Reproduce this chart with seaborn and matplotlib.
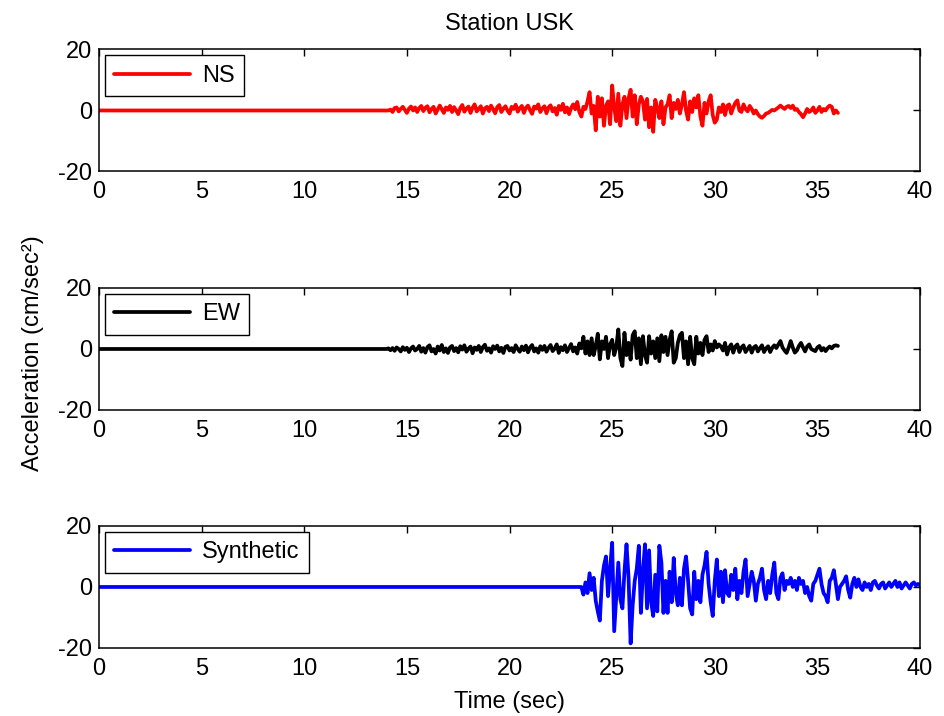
import numpy as np
import pandas as pd
import matplotlib
matplotlib.use("Agg")
import matplotlib.pyplot as plt
import seaborn as sns

# ---------------- data ----------------
title = "Station USK"
x_label = "Time (sec)"
y_label = "Acceleration (cm/sec²)"
x_ticks = [0, 5, 10, 15, 20, 25, 30, 35, 40]
y_ticks = [-20, 0, 20]

dt = 0.1
ns_start = 14.0
ns_values = [
    0, 0, 0.3, -0.5, 0.8, 1.0, -0.3, 0.5, 1.2, 0.2,
    -0.8, 0.6, 1.3, 0.0, 1.0, -0.5, 0.8, 1.5, -0.2, 0.9,
    1.4, -0.6, 0.5, 1.2, -1.0, 0.3, 1.6, 0.4, -0.8, 1.0,
    0.2, 1.5, -0.5, 1.1, 0.0, -1.2, 0.8, 1.8, -0.4, 0.6,
    1.3, -0.8, 0.9, 2.0, -0.3, 0.5, 1.4, -1.0, 0.7, 1.2,
    -0.2, 1.6, 0.4, -0.9, 1.1, 1.8, -0.5, 0.6, 1.4, 0.0,
    -1.0, 1.2, 0.5, 1.9, -0.4, 0.8, 1.5, -0.8, 0.9, 1.6,
    0.1, -1.1, 1.3, 0.6, 2.0, -0.5, 0.7, 1.4, -0.9, 1.0,
    1.7, -0.3, 0.8, -1.4, 1.5, 0.2, 2.2, -0.6, 1.0, -1.2,
    0.8, 2.0, 0.4, 2.8, -0.5, -2.0, 1.2, 0.5, 3.0, 6.0,
    -1.0, 1.5, -6.5, 4.5, -2.0, 4.0, -5.0, 1.5, 3.0, -4.5,
    8.2, 1.0, -3.5, 5.5, -5.0, 2.0, 4.5, -2.5, 4.0, 6.8,
    -2.0, 5.0, -4.5, 2.0, 4.5, 3.0, -3.0, 3.8, -5.5, 1.0,
    -7.0, 3.5, 1.0, -2.5, 3.0, -4.5, 1.0, 2.0, 5.0, -2.5,
    2.5, 0.5, 3.5, -1.0, 2.0, 6.0, 0.0, -3.0, 3.0, -0.5,
    4.0, 1.0, 5.0, -2.0, -5.0, 2.5, -1.0, 3.0, 5.0, -1.5,
    -4.0, -3.0, 1.0, -0.5, 2.0, -1.5, 1.5, 2.0, -1.0, 1.0,
    2.5, 3.3, 0.0, -0.5, 2.0, 0.5, -0.3, 1.5, 0.5, -1.0,
    0.0, -1.2, -2.0, -2.4, -1.8, -1.0, -0.8, -0.3, 0.2, 0.0,
    0.5, 1.0, 1.6, 1.0, 0.5, 1.2, 1.5, 0.8, 1.6, 0.2,
    0.5, -0.5, -1.2, -2.2, -1.0, 0.5, -0.5, 0.0, 1.0, -0.8,
    0.0, 1.2, -0.5, 0.5, 0.0, 1.0, 1.6, 1.2, -1.0, 0.0,
    -0.8,
]

ew_start = 14.0
ew_values = [
    0, 0.2, -0.4, 0.3, -0.6, 0.5, 0.0, -0.8, 0.6, -0.3,
    0.4, -1.0, 0.2, 0.8, -0.5, 0.0, 1.0, -0.9, 0.3, -1.2,
    0.6, 1.2, -0.8, 0.0, -1.5, 0.8, -0.5, 1.3, -1.0, 0.2,
    -1.3, 0.5, 1.0, -0.7, 0.3, -1.1, 0.9, -0.2, 1.2, -0.9,
    0.1, 0.8, -1.4, 0.5, -0.3, 1.0, -1.0, 0.6, 1.4, -0.6,
    0.2, -1.2, 0.9, 0.0, 1.1, -0.8, 0.4, -1.3, 0.7, 1.0,
    -0.5, 0.3, -1.0, 1.2, 0.0, -0.9, 0.8, -0.4, 1.1, -1.1,
    0.5, 1.3, -0.8, 0.2, -1.2, 0.9, -0.3, 1.0, -0.9, 0.4,
    1.3, -0.7, 0.1, 1.5, -1.3, 0.6, -0.4, 1.2, -1.0, 0.3,
    1.6, -0.8, 0.5, -1.5, 1.8, 0.2, 4.0, -1.5, 2.5, -2.0,
    3.5, -2.0, 1.0, 5.0, -3.4, 2.5, 0.0, 4.0, -3.0, 1.5,
    3.0, -2.0, 0.5, 6.4, -3.0, -5.6, 5.3, -2.0, 2.0, -3.5,
    4.5, 5.8, -3.0, 3.5, -5.0, 4.2, -2.0, -4.5, 4.2, -1.5,
    2.5, -3.0, 3.5, -4.0, 4.5, -1.0, 4.0, -2.0, 3.0, 5.8,
    -4.5, -3.0, 2.0, 4.5, 5.3, -3.0, 2.5, -5.0, 4.0, -3.0,
    -5.0, 4.0, -1.5, 2.0, -2.0, 3.0, 4.2, -1.0, 1.5, -0.5,
    2.6, 0.5, 1.5, 0.8, -0.5, 2.0, -1.8, 0.5, 1.5, -1.2,
    0.8, 1.5, -1.0, 0.5, 1.2, -1.0, 0.0, 1.0, -1.2, 0.5,
    1.0, -0.8, 0.3, 1.2, -1.0, 0.2, 0.9, -1.0, 0.4, 1.2,
    0.3, 1.5, 2.6, 0.5, -0.5, -1.3, 0.5, 2.6, 0.5, -1.2,
    -0.5, 1.0, 2.0, 0.5, -0.8, 0.8, 1.5, 0.0, -0.4, -0.7,
    0.5, 1.0, -0.5, 0.3, -0.7, 0.2, 0.8, 0.2, 1.0, 1.2,
    1.0,
]

syn_start = 23.5
syn_values = [
    0, -2.5, 1.5, -2, 4.5, -1, 3, -4.5, -8, -11,
    2, 7, 10, -3, 6, 14.5, -14.5, -3, 8, -4,
    -7, 5, 14, 3, -18.5, -6, 2, 6, 13.5, -8.5,
    5, 14, -7, 12, -5, -9.5, 4, -8, 13.5, 8,
    -8.5, 2, -8.5, 5, -5, 9.5, -2, -6, 3, -6,
    6, 10, 2, -7, -9, 5, -4, 2, -5, 4,
    7, 11.5, 1, -5, -9.5, 2, 9, -3, 5, -5,
    5.5, -2, -3, 4, -1, 6, -4, 2, -2, 5,
    9, -3, 1, 5, 2, -4.5, 1, 3, 6, -1,
    -4, 2, -2, 4, 8, -2, -4, 3, 4.5, -1,
    2, 1, 3, 0, 2, -1, 3, 1, 2, -2,
    0, -3, -4.5, 1, 2, 4, 6, 1, -2, -3,
    -5, 2, 3, 5.5, 1, -4, 0, 1, 2, 3.5,
    -1, -3.5, 1, 3, 0, 2.5, 0, -1, 1.5, 0,
    1, -1, 1.5, 2, 0.5, -0.5, 1, 1.5, -0.5, 0.5,
    1.5, 0, 1, 2, 0, 1.5, -0.5, 0.5, 1.5, 0.5,
    -0.5, 1, 1.5, 0.5, 1, 0.5,
]

series = [
    ("NS", ns_start, ns_values, "#FF0000"),
    ("EW", ew_start, ew_values, "#000000"),
    ("Synthetic", syn_start, syn_values, "#0000FF"),
]

# ---------------- style ----------------
sns.set_theme(style="white")
plt.rcParams["font.family"] = ["Liberation Sans", "DejaVu Sans"]
plt.rcParams["axes.unicode_minus"] = False
plt.rcParams["text.color"] = "black"
plt.rcParams["axes.labelcolor"] = "black"
plt.rcParams["axes.linewidth"] = 1.1
FS = 17

fig = plt.figure(figsize=(9.44, 7.16), dpi=100)
bottoms = [0.7605, 0.4274, 0.0950]
axes = [fig.add_axes([0.1049, b, 0.8697, 0.1704]) for b in bottoms]

for ax, (name, t0, vals, col) in zip(axes, series):
    vals = np.asarray(vals, dtype=float)
    t = t0 + dt * np.arange(len(vals))
    df = pd.DataFrame({"t": np.concatenate([[0.0], t]),
                       "a": np.concatenate([[0.0], vals])})
    sns.lineplot(data=df, x="t", y="a", ax=ax, color=col, linewidth=2.7,
                 label=name, estimator=None, sort=False)
    ax.set_xlim(0, 40)
    ax.set_ylim(-20, 20)
    ax.set_xticks(x_ticks)
    ax.set_yticks(y_ticks)
    ax.set_xlabel("")
    ax.set_ylabel("")
    ax.tick_params(axis="x", pad=7)
    ax.tick_params(axis="y", pad=5)
    ax.tick_params(direction="in", length=5, width=1.0, top=True, right=True,
                   labelsize=FS, colors="black")
    for sp in ax.spines.values():
        sp.set_color("black")
        sp.set_linewidth(1.1)
    leg = ax.legend(loc="upper left", fontsize=FS, frameon=True, fancybox=False,
                    edgecolor="black", framealpha=1, handlelength=3.2,
                    borderaxespad=0.25, borderpad=0.4, handletextpad=0.5)
    leg.get_frame().set_linewidth(1.0)

axes[0].set_title(title, fontsize=FS, pad=14, color="black")
axes[2].set_xlabel(x_label, fontsize=FS, labelpad=8, color="black")
fig.text(33 / 944, 1 - 353 / 716, y_label, rotation=90, ha="center",
         va="center", fontsize=FS, color="black")

fig.savefig("out.png", dpi=100, facecolor="white")
